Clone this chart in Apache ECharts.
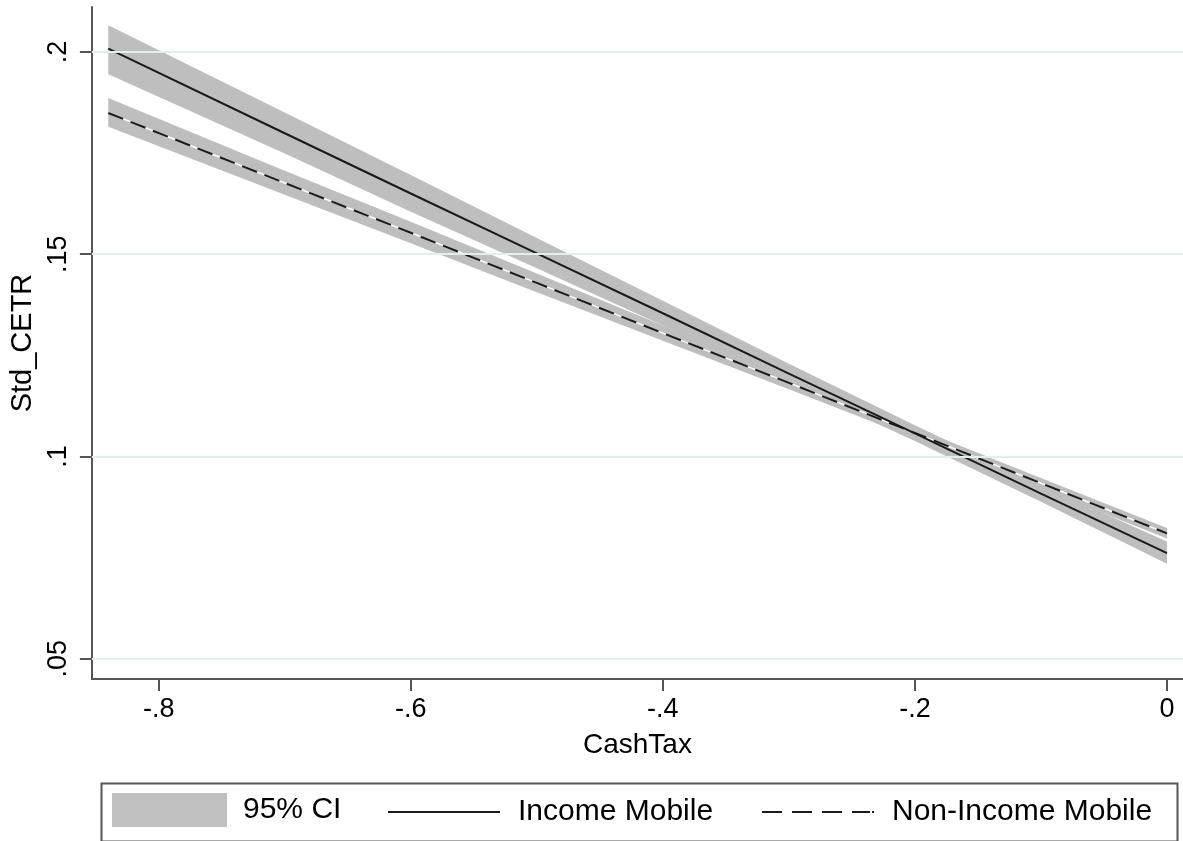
<!DOCTYPE html>
<html>
<head>
<meta charset="utf-8">
<script src="https://cdn.jsdelivr.net/npm/echarts@6/dist/echarts.min.js"></script>
<style>
html,body{margin:0;padding:0;background:#fff;}
#chart{width:1183px;height:841px;}
</style>
</head>
<body>
<div id="chart"></div>
<script>
// ---- data ----
var cashTax = [-0.84, -0.7, -0.6, -0.5, -0.4, -0.3, -0.2, -0.1, 0];
var incomeMobile = [0.2008, 0.1799, 0.1650, 0.1502, 0.1354, 0.1205, 0.1057, 0.0908, 0.0761];
var incomeLo = [0.1945, 0.1749, 0.1605, 0.1465, 0.1324, 0.1181, 0.1038, 0.0888, 0.0735];
var incomeHi = [0.2066, 0.1850, 0.1696, 0.1540, 0.1385, 0.1229, 0.1077, 0.0929, 0.0790];
var nonIncomeMobile = [0.1849, 0.1676, 0.1553, 0.1429, 0.1305, 0.1182, 0.1058, 0.0934, 0.0810];
var nonIncomeLo = [0.1815, 0.1647, 0.1527, 0.1406, 0.1286, 0.1166, 0.1045, 0.0921, 0.0797];
var nonIncomeHi = [0.1886, 0.1706, 0.1580, 0.1452, 0.1324, 0.1198, 0.1071, 0.0947, 0.0823];
var xTicks = [-0.8, -0.6, -0.4, -0.2, 0];
var yTicks = [0.05, 0.1, 0.15, 0.2];

function stataFmt(v) {
  if (v === 0) return '0';
  return String(+v.toFixed(4)).replace('0.', '.');
}
function pairs(ys) { return cashTax.map(function (x, i) { return [x, ys[i]]; }); }
function bandData(lo, hi) { return cashTax.map(function (x, i) { return [x, lo[i], hi[i]]; }); }
function bandRender(params, api) {
  if (params.dataIndex !== 0) return;
  var n = cashTax.length;
  var top = [], bot = [];
  for (var i = 0; i < n; i++) {
    top.push(api.coord([api.value(0, i), api.value(2, i)]));
    bot.push(api.coord([api.value(0, i), api.value(1, i)]));
  }
  return { type: 'polygon', shape: { points: top.concat(bot.reverse()) },
           style: { fill: '#bebebe' } };
}

var solidIcon = 'path://M0,0H112V2H0Z';
var dashIcon = 'path://M0,0H20V2H0Z M30,0H50V2H30Z M60,0H80V2H60Z M90,0H108V2H90Z M110,0H112V2H110Z';

var font = 'Liberation Sans, Arial, Helvetica, sans-serif';
var chart = echarts.init(document.getElementById('chart'), null, { renderer: 'canvas' });
chart.setOption({
  animation: false,
  backgroundColor: '#fff',
  grid: { left: 90, right: 0, top: 7, bottom: 162 },
  xAxis: {
    type: 'value', min: -0.853, max: 0.0127,
    name: 'CashTax', nameLocation: 'middle', nameGap: 52,
    nameTextStyle: { fontFamily: font, fontSize: 28, color: '#000' },
    axisLine: { show: true, onZero: false, lineStyle: { color: '#555', width: 2 } },
    axisTick: { show: true, customValues: xTicks, length: 12, lineStyle: { color: '#555', width: 2 } },
    axisLabel: { customValues: xTicks, formatter: stataFmt, margin: 17,
                 fontFamily: font, fontSize: 27, color: '#000' },
    splitLine: { show: false }
  },
  yAxis: {
    type: 'value', min: 0.045, max: 0.2111,
    name: 'Std_CETR', nameLocation: 'middle', nameGap: 48,
    nameTextStyle: { fontFamily: font, fontSize: 29, color: '#000' },
    axisLine: { show: true, onZero: false, lineStyle: { color: '#555', width: 2 } },
    axisTick: { show: true, customValues: yTicks, length: 12, lineStyle: { color: '#555', width: 2 } },
    axisLabel: { customValues: yTicks, formatter: stataFmt, rotate: 90, margin: 20,
                 fontFamily: font, fontSize: 27, color: '#000' },
    splitLine: { show: false }
  },
  legend: [
    { data: [{ name: '95% CI', icon: 'rect', itemStyle: { color: '#c0c0c0' } }],
      left: 112, top: 793, itemWidth: 115, itemHeight: 34, padding: 0,
      textStyle: { fontFamily: font, fontSize: 30, color: '#000', padding: [0, 0, 0, 11] } },
    { data: [{ name: 'Income Mobile', icon: solidIcon, itemStyle: { color: '#1a1a1a' } }],
      left: 388, top: 797, itemWidth: 112, itemHeight: 2, padding: 0,
      textStyle: { fontFamily: font, fontSize: 30, color: '#000', padding: [0, 0, 0, 13] } },
    { data: [{ name: 'Non-Income Mobile', icon: dashIcon, itemStyle: { color: '#1a1a1a' } }],
      left: 762, top: 797, itemWidth: 112, itemHeight: 2, padding: 0,
      textStyle: { fontFamily: font, fontSize: 30, color: '#000', padding: [0, 0, 0, 13] } }
  ],
  graphic: [
    { type: 'rect', left: 99, top: 781, shape: { width: 1076, height: 58 },
      style: { fill: null, stroke: '#555', lineWidth: 2 }, silent: true }
  ],
  series: [
    { type: 'line', name: 'grid', data: [], silent: true, z: 0,
      markLine: { silent: true, symbol: 'none', label: { show: false },
        lineStyle: { color: '#e4eef1', width: 2, type: 'solid' },
        data: yTicks.map(function (v) { return { yAxis: v }; }) } },
    { type: 'custom', name: '95% CI', renderItem: bandRender, z: 1,
      itemStyle: { color: '#bebebe' },
      encode: { x: 0, y: [1, 2] }, data: bandData(incomeLo, incomeHi) },
    { type: 'custom', name: '95% CI', renderItem: bandRender, z: 1,
      itemStyle: { color: '#bebebe' },
      encode: { x: 0, y: [1, 2] }, data: bandData(nonIncomeLo, nonIncomeHi) },
    { type: 'line', name: '_under', data: pairs(nonIncomeMobile), symbol: 'none', z: 2,
      lineStyle: { color: '#fff', width: 1.5 }, silent: true },
    { type: 'line', name: 'Non-Income Mobile', data: pairs(nonIncomeMobile), symbol: 'none', z: 3,
      itemStyle: { color: '#1a1a1a' },
      lineStyle: { color: '#1a1a1a', width: 2, type: [16, 8] } },
    { type: 'line', name: 'Income Mobile', data: pairs(incomeMobile), symbol: 'none', z: 3,
      itemStyle: { color: '#1a1a1a' },
      lineStyle: { color: '#1a1a1a', width: 2 } }
  ]
});
</script>
</body>
</html>
